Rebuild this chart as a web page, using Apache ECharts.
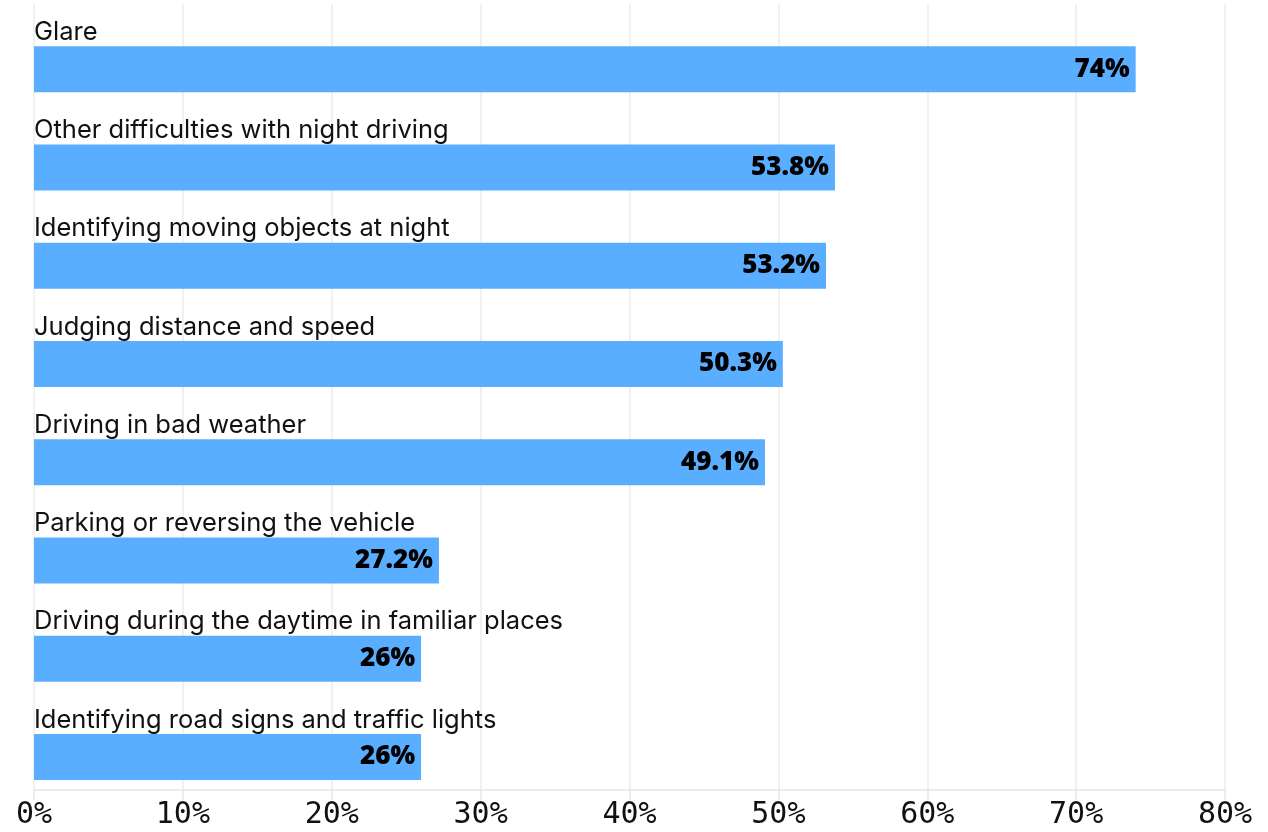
<!DOCTYPE html>
<html>
<head>
<meta charset="utf-8">
<title>Night driving difficulties</title>
<script src="https://cdn.jsdelivr.net/npm/echarts@6/dist/echarts.min.js"></script>
<style>
  html, body { margin: 0; padding: 0; background: #fff; }
  #chart { width: 1268px; height: 832px; }
</style>
</head>
<body>
<div id="chart"></div>
<script>
// categories, top to bottom
const categories = [
  'Glare',
  'Other difficulties with night driving',
  'Identifying moving objects at night',
  'Judging distance and speed',
  'Driving in bad weather',
  'Parking or reversing the vehicle',
  'Driving during the daytime in familiar places',
  'Identifying road signs and traffic lights'
]
// share of respondents, %
const values = [74, 53.8, 53.2, 50.3, 49.1, 27.2, 26, 26]
const tickMax = 80
const tickStep = 10

const chart = echarts.init(document.getElementById('chart'), null, { renderer: 'canvas' })

const option = {
  animation: false,
  grid: { left: 34, right: 43, top: 4, bottom: 42 },
  xAxis: {
    type: 'value',
    min: 0,
    max: tickMax,
    interval: tickStep,
    axisLine: { show: true, lineStyle: { color: '#e6e6e6', width: 1.5 } },
    axisTick: { show: true, length: 10, lineStyle: { color: '#e6e6e6', width: 1.5 } },
    splitLine: { show: true, lineStyle: { color: '#ececec', width: 1.5 } },
    axisLabel: {
      margin: 10,
      formatter: '{value}%',
      fontFamily: 'DejaVu Sans Mono',
      fontSize: 30,
      color: '#111'
    }
  },
  yAxis: {
    type: 'category',
    data: categories,
    inverse: true,
    axisLine: { show: false },
    axisTick: { show: false },
    axisLabel: { show: false }
  },
  series: [
    {
      // invisible row that carries the category name above each bar
      type: 'bar',
      data: categories.map(() => 0),
      barWidth: 32,
      barGap: '0%',
      itemStyle: { color: 'transparent' },
      silent: true,
      label: {
        show: true,
        position: 'insideLeft',
        distance: 0,
        offset: [0, 2],
        formatter: (p) => categories[p.dataIndex],
        fontFamily: 'Inter',
        fontSize: 25.5,
        color: '#111'
      }
    },
    {
      type: 'bar',
      data: values,
      barWidth: 46,
      barGap: '0%',
      itemStyle: { color: '#5aaeff' },
      label: {
        show: true,
        position: 'insideRight',
        distance: 6,
        formatter: '{c}%',
        fontFamily: 'Open Sans',
        fontWeight: 800,
        fontSize: 26,
        color: '#000'
      }
    }
  ]
}

chart.setOption(option)
</script>
</body>
</html>
